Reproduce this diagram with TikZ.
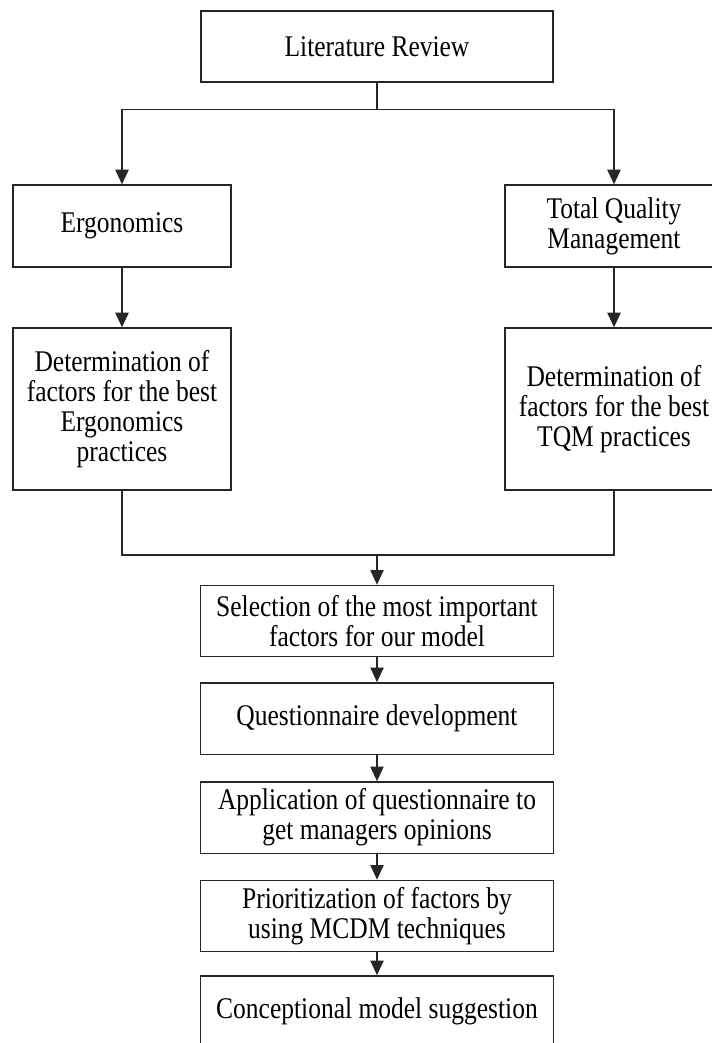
\documentclass[tikz,border=0pt]{standalone}
\usepackage{fontspec}
\setmainfont{Liberation Serif}[FakeStretch=0.85]
\usepackage{tikz}
\usetikzlibrary{arrows.meta}

\tikzset{
  stepbox/.style={draw=black!85, line width=1pt, fill=white, align=center, inner sep=1pt,
    font=\fontsize{22.5}{22.5}\selectfont},
  sidebox/.style={stepbox, minimum width=163.5pt},
  midbox/.style={stepbox, minimum width=264.75pt, minimum height=53.5pt},
  flow/.style={line width=1pt, draw=black!85},
}

\begin{document}
\begin{tikzpicture}[x=0.75pt,y=-0.75pt,>={Triangle[length=11pt,width=10pt]}]
\useasboundingbox (0,0) rectangle (712,1043);
% top of the review
\node[stepbox, minimum width=264pt, minimum height=53.25pt] (lit) at (377,46.5) {Literature Review};
\node[sidebox, minimum height=61.5pt] (ergo) at (122,226) {Ergonomics};
\node[sidebox, minimum height=61.5pt] (tqm) at (614,226) {Total Quality\\Management};
\node[sidebox, minimum height=121.5pt] (detE) at (122,409) {Determination of\\factors for the best\\Ergonomics\\practices};
\node[sidebox, minimum height=121.5pt] (detT) at (614,409) {Determination of\\factors for the best\\TQM practices};
\draw[flow,->] (lit.south) -- ++(0,27) coordinate (split) -| (ergo.north);
\draw[flow,->] (split) -| (tqm.north);
\draw[flow,->] (ergo) -- (detE);
\draw[flow,->] (tqm) -- (detT);
% merged column
\node[midbox] (sel) at (377,621) {Selection of the most important\\factors for our model};
\node[midbox] (quest) at (377,718.5) {Questionnaire development};
\node[midbox] (appl) at (377,817.5) {Application of questionnaire to\\get managers opinions};
\node[midbox] (prio) at (377,916) {Prioritization of factors by\\using MCDM techniques};
\node[midbox] (conc) at (377,1011.5) {Conceptional model suggestion};
\coordinate (merge) at (377,555);
\draw[flow] (detE.south) |- (merge);
\draw[flow] (detT.south) |- (merge);
\draw[flow,->] (merge) -- (sel.north);
\foreach \a/\b in {sel/quest,quest/appl,appl/prio,prio/conc}
  \draw[flow,->] (\a) -- (\b);
\end{tikzpicture}
\end{document}
